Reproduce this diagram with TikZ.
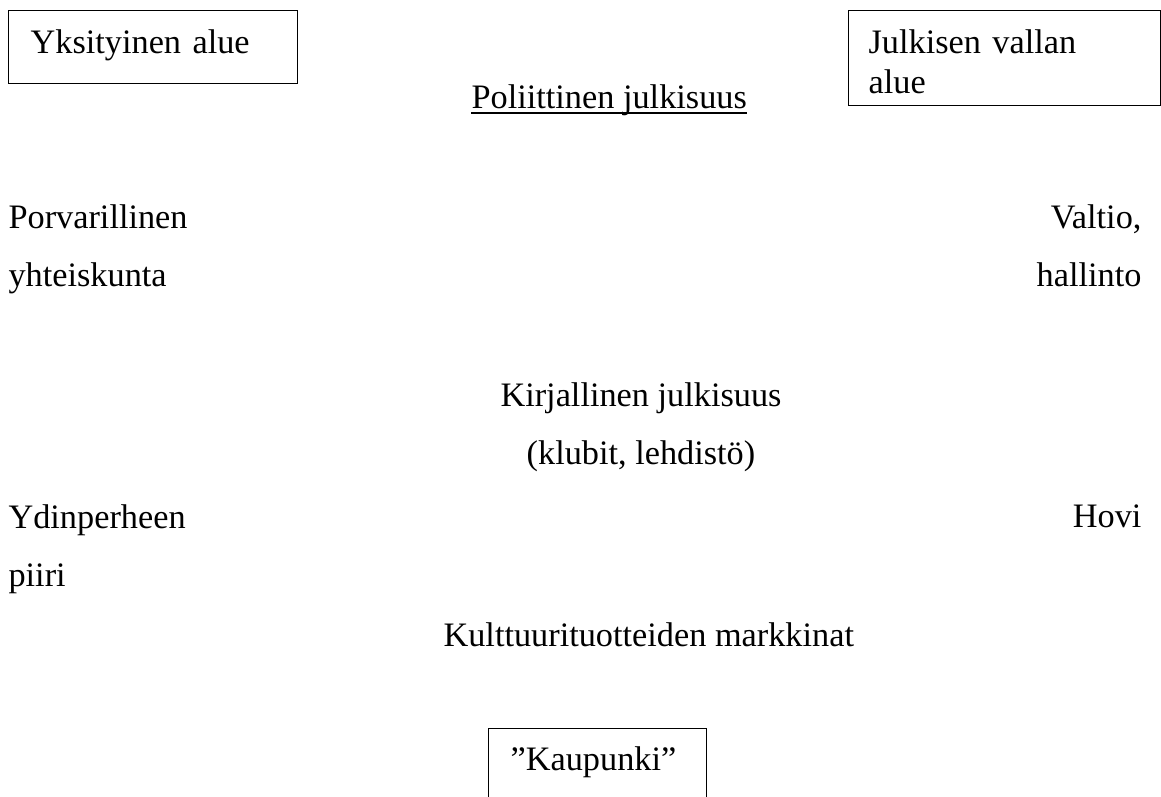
\documentclass[tikz,border=0pt]{standalone}
\usepackage{fontspec}
\setmainfont{Liberation Serif}
\usepackage{tikz}
\newcommand{\px}{0.35pt}
\tikzset{%
  areabox/.style   = {draw, line width=0.45pt, anchor=north west, align=left,%
                      inner xsep=22*\px, inner ysep=0pt,%
                      font=\fontsize{12}{13.8}\selectfont},%
  plaintext/.style = {inner sep=0pt, font=\fontsize{12}{20.5}\selectfont}%
}
\begin{document}
\begin{tikzpicture}[x=\px, y=-\px]
  \useasboundingbox (0,0) rectangle (1161,797);
  \clip (0,0) rectangle (1161,797);
  % the three boxes
  \node (private) [areabox, text width=245*\px, text height=43*\px, text depth=30*\px] at (8,10) {Yksityinen alue};
  \node (public) [areabox, inner xsep=20*\px, text width=272*\px, text height=43*\px, text depth=52*\px] at (848,10) {Julkisen vallan\\alue};
  \node (city) [areabox, text width=174*\px, text height=42*\px, text depth=60*\px] at (488,728) {”Kaupunki”};
  % texts (base = last line)
  \node (pol) [plaintext, anchor=base west] at (471,109) {Poliittinen julkisuus};
  \draw[line width=0.45pt] ([yshift=-4*\px]pol.base west) -- ([yshift=-4*\px]pol.base east);
  \node (civil) [plaintext, anchor=base west, align=left] at (8,287) {Porvarillinen\\yhteiskunta};
  \node (state) [plaintext, anchor=base east, align=right] at (1142,287) {Valtio,\\hallinto};
  \node (lit) [plaintext, anchor=base, align=center] at (641,465) {Kirjallinen julkisuus\\(klubit, lehdistö)};
  \node (family) [plaintext, anchor=base west, align=left] at (8,587) {Ydinperheen\\piiri};
  \node (court) [plaintext, anchor=base east] at (1142,528) {Hovi};
  \node (market) [plaintext, anchor=base west] at (443,647) {Kulttuurituotteiden markkinat};
\end{tikzpicture}
\end{document}
